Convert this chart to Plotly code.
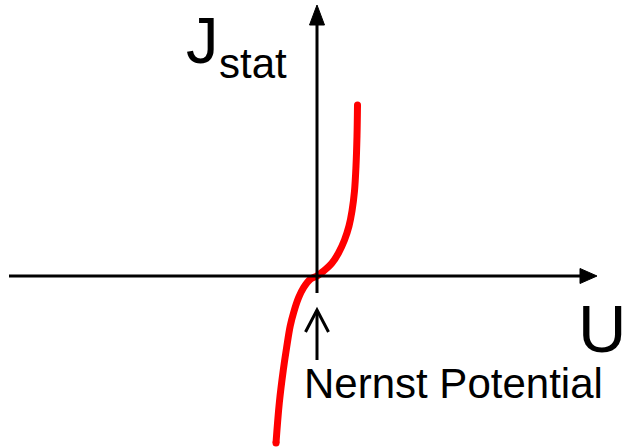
import plotly.graph_objects as go

# Curve data (U, J) in arbitrary units, origin = Nernst potential
U_vals = [-41, -37.7, -33.7, -30.3, -26.8, -23.4, -18.4, -13.4, -6.7, 0,
          6.6, 15, 21.5, 27.5, 32, 35, 37.5, 39, 40, 40.5]
J_vals = [-167, -127, -94, -71, -50, -36.7, -21.7, -11.7, -3.3, 0,
          5, 13, 23, 36, 50, 65, 85, 110, 140, 171]

W, H = 628, 448
X0, Y0 = 317, 276  # pixel position of the origin
x_range = [-X0, W - X0]
y_range = [Y0 - H, Y0]

fig = go.Figure()
fig.add_trace(go.Scatter(
    x=U_vals, y=J_vals, mode="lines",
    line=dict(color="#FF0000", width=7, shape="spline", smoothing=1.0),
    hoverinfo="skip", showlegend=False,
))
fig.add_trace(go.Scatter(
    x=[U_vals[0], U_vals[-1]], y=[J_vals[0], J_vals[-1]], mode="markers",
    marker=dict(color="#FF0000", size=7, line=dict(width=0)),
    hoverinfo="skip", showlegend=False,
))

shapes = []
# horizontal axis
shapes.append(dict(type="line", x0=-308, y0=0, x1=266, y1=0, xref="x", yref="y",
                   line=dict(color="black", width=3)))
shapes.append(dict(type="path", path="M 263,-7.5 L 280,0 L 263,7.5 Z", xref="x", yref="y",
                   fillcolor="black", line=dict(color="black", width=1)))
# vertical axis
shapes.append(dict(type="line", x0=0, y0=-17, x1=0, y1=253, xref="x", yref="y",
                   line=dict(color="black", width=3)))
shapes.append(dict(type="path", path="M -7.5,251 L 0,271 L 7.5,251 Z", xref="x", yref="y",
                   fillcolor="black", line=dict(color="black", width=1)))
# Nernst arrow
shapes.append(dict(type="line", x0=0, y0=-84, x1=0, y1=-35, xref="x", yref="y",
                   line=dict(color="black", width=3)))
shapes.append(dict(type="path", path="M -11.5,-56 L 0,-34 L 11.5,-56", xref="x", yref="y",
                   line=dict(color="black", width=3)))

font = "Liberation Sans, Arial, sans-serif"
def ann(text, px, py, size, anchor="left"):
    return dict(text=text, x=px / W, y=1 - py / H, xref="paper", yref="paper",
                xanchor=anchor, yanchor="middle", showarrow=False,
                font=dict(family=font, size=size, color="black"))

annotations = [
    ann("J", 184, 40, 65),
    ann("stat", 217, 63, 42),
    ann("U", W, 328, 67, anchor="right"),
    ann("Nernst Potential", 302, 383, 42),
]

fig.update_layout(
    width=W, height=H, margin=dict(l=0, r=0, t=0, b=0),
    paper_bgcolor="white", plot_bgcolor="white",
    xaxis=dict(range=x_range, visible=False, fixedrange=True),
    yaxis=dict(range=y_range, visible=False, fixedrange=True),
    shapes=shapes, annotations=annotations,
)
fig.write_html("out.html", config={"displayModeBar": False},
               post_script="document.body.style.margin='0';document.body.style.overflow='hidden';")
